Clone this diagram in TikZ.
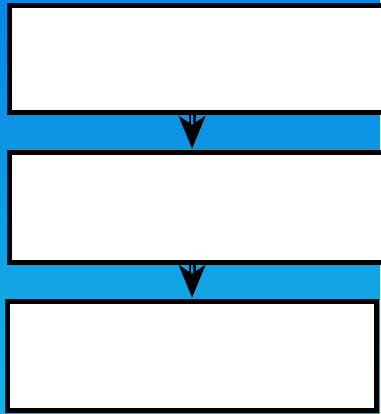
\documentclass[tikz,border=0pt]{standalone}
\usetikzlibrary{arrows.meta}
\definecolor{bgtop}{RGB}{8,134,228}
\definecolor{bgbot}{RGB}{22,178,226}
\definecolor{shaftblue}{RGB}{12,150,228}
\tikzset{
  boxnode/.style={draw=black, fill=white, line width=5.5pt, rectangle, inner sep=0pt},
  flowarrow/.style={draw=black, line width=2.5pt, double=shaftblue, double distance=2pt,
    -{Stealth[length=33pt, width=27pt, inset=9pt]}, shorten >=1pt}
}
\begin{document}
\begin{tikzpicture}[x=1pt,y=-1pt]
\useasboundingbox (0,0) rectangle (380,414);
\shade[top color=bgtop, bottom color=bgbot] (0,0) rectangle (380,414);
\node[boxnode, minimum width=375.5pt, minimum height=107pt] (b1) at (197.25,59) {};
\node[boxnode, minimum width=375.5pt, minimum height=110pt] (b2) at (197.25,207.5) {};
\node[boxnode, minimum width=369pt, minimum height=109pt] (b3) at (192,356) {};
\draw[flowarrow] (b1.south -| b3) -- (b2.north -| b3);
\draw[flowarrow] (b2.south -| b3) -- (b3.north -| b3);
\end{tikzpicture}
\end{document}
